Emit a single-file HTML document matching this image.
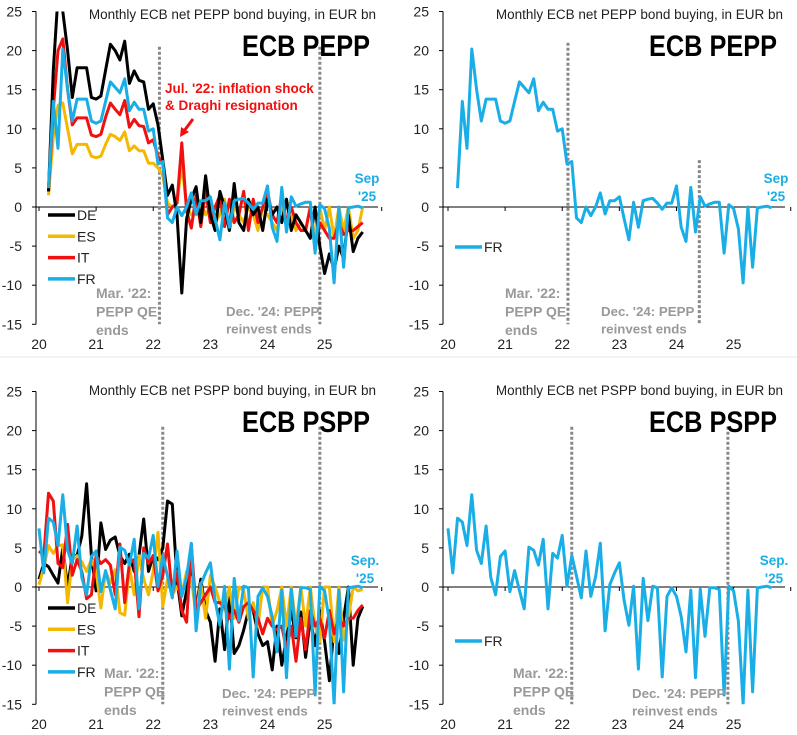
<!DOCTYPE html>
<html><head><meta charset="utf-8"><style>
html,body{margin:0;padding:0;background:#fff;}
svg{display:block;font-family:"Liberation Sans",sans-serif;}
</style></head><body>
<svg id="c" width="797" height="735" viewBox="0 0 797 735"></svg>
<script>
// Data: monthly values, month index 0 = Jan 2020
const yTicks = [25,20,15,10,5,0,-5,-10,-15];
const xTickLabels = ['20','21','22','23','24','25'];
const peppStart = 2;
const peppDE = [2,17.5,27,25,20,14,17.8,17.8,17.8,14,13.8,14.2,17.5,20.8,20,18.8,21.2,15.8,17.4,16.2,16,12.5,13.2,10.5,6,1.5,2.8,-1,-11,-1.5,1,
 2.6,-2,4,-1,-3,2,0,-3,3,-2,-3,1,-1,0,-3,1,-1,0,-2,1,-3,-1,-2,-3,-4,0,-5,-8.5,-6,-8,-5,-6.6,-1,-5.7,-4,-3.2];
const peppES = [1.5,9,13,13.3,10,6.8,8,8,8,6.5,6.3,6.5,8,9.3,9,8.5,9.6,7.2,7.8,7.2,7.2,5.6,5.6,5,4,0.5,0,0.5,5.5,0,-1,
 -1,0.5,-1,0,-2,-1,1,-3,0,-1,-2,0,-1,-3,0,-1,-2,-3,0,-2,-1,-3,-2,-3,0,-4,0,-3,0,-4,0,-3,0,-4,-3,0];
const peppIT = [2,12.5,20,21.5,15,10.5,11.4,11.4,11.4,9.2,9,9.3,11.5,13.3,12.5,11.8,13.6,10.2,11.2,10.4,10.3,8.2,8.6,6.5,5.5,-1,0,0.5,8.2,-0.5,-2.7,
 1.5,-2.5,2,-2,0,1.5,-2.5,1,-2,-1,2,-3,1,-2,0,2,-1,-2,1.5,-2,0,-2,-3,-3,0,-5.5,-2,-3,-4,-4,-2,-3.5,-3,-3,-2.5,-2];
const peppFR = [2.4,13.5,7.5,20.2,15,11,13.8,13.8,13.8,11,10.7,11,13.5,16,15.3,14.6,16.4,12.3,13.4,12.5,12.5,9.7,10,5.5,5.8,-1.4,-2,0,-1.1,0,1.8,-0.9,0.8,0.8,1.3,-1.5,-4.2,0.6,-2.6,0.8,1,1.1,0.5,-0.3,0.5,0.5,2.7,-2.6,-4.4,2.5,-3.2,1.3,0.1,0.4,0.6,0.6,-5.9,0.3,-0.2,-2.8,-9.7,0,-7.7,-0.1,0,0.1,-0.1];
const psppStart = 0;
const psppDE = [1,3,2.6,1.5,0.5,5,0,4,4,6.5,13.2,4,-0.5,8.2,4.8,6,6.4,4,3,4.2,2,4,8.7,2,4,3.5,5,11,10.6,1,-3.7,-0.5,3,-2.8,1,-3,-4.5,-9.5,-2.8,-8,-1,-8.5,-7.5,-5.5,-3,-3,-6,-7.5,-7,-10.6,-5,-10,-6.5,-3,-6.5,-3.2,-9,-4,-7.5,-3,-7,-12,-5,-8.5,-4,0,-10,-4,-2.5];
const psppES = [0.3,2.5,5.3,4.3,5.3,5.4,-2,3.5,4,3.2,2,3.5,2,-2.7,2,0.5,2.2,-3.3,-3.6,2.5,-1,4,1,-1,2,7,-2.5,1,-1,0,-1,2,1,-3.5,0.5,-4,1.5,0,-2,-3,0,-4,0,-0.5,-4,-2,-5,0,0,-5,-3,0,-5,0,-5,0,-5,0,-5,-7,0,0,-7,0,-6.8,-4,0,-0.5,-0.3];
const psppIT = [4.6,4,12,11,3,2.5,8,1.5,3.5,2,-1.5,-1,4,3,3.5,2.8,-1,5.5,-2,3,3.5,-3.8,5,3,4,-0.5,1.5,5.5,-1,2,-3,-4.5,5.5,-3,-2,-1,0,-2,-2,-2.5,-4,-3,-4.5,-2.5,-2,-3,-4,-6,-4,-5,-5.5,-5,-8,-5,-9.5,-4,-8,-3,-5,-4,-6.5,-3,-6,-4,-5,-4,-4,-3,-2.3];
const psppFR = [7.5,1.8,8.8,8.3,5.3,11.8,4.7,3,7.8,1.2,-1,3.9,4.6,-0.6,2.1,-0.4,-2.8,5.1,4.7,2.8,6.1,-2.8,4.3,3.7,6.6,0.1,4,1.4,-1.4,4.6,-1.2,1.3,5.6,-5.6,0.3,1.8,3.1,-1.7,-4.9,0.1,-10.5,1.1,-4.3,0.1,-0.1,-11.5,-1.2,-0.1,-1.2,-3.8,-8.3,-0.4,-11.6,-0.3,-6.3,-0.1,-0.1,-0.3,-13.8,0.1,-0.5,-4.4,-15,-0.4,-13.4,-0.1,0,0.1,-0.1];

const NS='http://www.w3.org/2000/svg';
const svg=document.getElementById('c');
const COL={DE:'#000000',ES:'#F5B800',IT:'#F01010',FR:'#19AEE6'};
function mk(tag,attrs,parent){const e=document.createElementNS(NS,tag);for(const k in attrs)e.setAttribute(k,attrs[k]);(parent||svg).appendChild(e);return e;}
function txt(s,x,y,attrs,parent){const t=mk('text',Object.assign({x:x,y:y},attrs),parent);t.textContent=s;return t;}

function panel(o){
  const g=mk('g',{});
  
  
  const X=m=>o.x0+m*4.76;
  const Y=v=>o.y0-v*7.82;
  const axX=o.axX;
  const ya=mk('line',{x1:axX,y1:Y(25),x2:axX,y2:Y(-15),stroke:'#000','stroke-width':1},g);
  
  
  yTicks.forEach(v=>{
    mk('line',{x1:axX-4,y1:Y(v),x2:axX,y2:Y(v),stroke:'#000'},g);
    const t=txt(String(v),axX-14,Y(v)+5,{'text-anchor':'end','font-size':14,fill:'#222'},g);
    
    
  });
  const xa=mk('line',{x1:axX,y1:Y(0),x2:axX+342,y2:Y(0),stroke:'#000','stroke-width':1},g);
  
  
  xTickLabels.forEach((s,i)=>{
    mk('line',{x1:X(i*12),y1:Y(0),x2:X(i*12),y2:Y(0)+4,stroke:'#000'},g);
    const t=txt(s,X(i*12),o.labY,{'text-anchor':'middle','font-size':14,fill:'#222'},g);
    
    
  });
  mk('line',{x1:X(72),y1:Y(0),x2:X(72),y2:Y(0)+4,stroke:'#000'},g);
  o.vlines.forEach((m,i)=>{
    const l=mk('line',{x1:X(m),y1:Y(o.vTop[i]),x2:X(m),y2:Y(-15),stroke:'#888','stroke-width':3,'stroke-dasharray':'3,2'},g);
    
    
  });
  const cid='clip'+o.name;
  const cp=mk('clipPath',{id:cid},g);
  mk('rect',{x:axX,y:Y(25),width:360,height:Y(-15)-Y(25)},cp);
  o.series.forEach(s=>{
    const pts=s.data.map((v,i)=>X(o.start+i).toFixed(1)+','+Y(v).toFixed(1)).join(' ');
    const p=mk('polyline',{points:pts,fill:'none',stroke:COL[s.k],'stroke-width':3,'stroke-linejoin':'round','clip-path':'url(#'+cid+')'},g);
    
    
  });
  const t1=txt(o.title,axX+340,o.y0-188+o.tOff,{'text-anchor':'end','font-size':13.5,fill:'#222'},g);
  
  
  const t2=txt(o.big,axX+206,o.y0-151+o.tOff,{'font-size':30,'font-weight':'bold',fill:'#000',textLength:128,lengthAdjust:'spacingAndGlyphs'},g);
  
  
  o.legend.forEach((k,i)=>{
    const ly=o.legY+i*21.3;
    const l=mk('line',{x1:axX+12,y1:ly,x2:axX+39,y2:ly,stroke:COL[k],'stroke-width':3.5},g);
    
    
    const t=txt(k,axX+41,ly+5,{'font-size':14,fill:'#222'},g);
    
    
  });
  const g1=mk('g',{'font-size':14,'font-weight':'bold',fill:'#999'},g);
  
  
  o.mar.lines.forEach((s,i)=>txt(s,o.mar.x,o.mar.y+i*18.5,{},g1));
  const g2=mk('g',{'font-size':13.3,'font-weight':'bold',fill:'#999'},g);
  
  
  o.dec.lines.forEach((s,i)=>txt(s,o.dec.x,o.dec.y+i*17.5,{},g2));
  const g3=mk('g',{'font-size':13.5,'font-weight':'bold',fill:'#19AEE6','text-anchor':'middle'},g);
  
  
  o.sep.lines.forEach((s,i)=>txt(s,o.sep.x,o.sep.y+i*18,{},g3));
  return g;
}

const sep1=mk('line',{x1:0,y1:357,x2:797,y2:357,stroke:'#e4e4e4'});



panel({name:'pepp-all',x0:39,y0:207,axX:36,labY:349,start:peppStart,vlines:[25.3,59],vTop:[20.5,20.5],
  series:[{k:'ES',data:peppES},{k:'IT',data:peppIT},{k:'DE',data:peppDE},{k:'FR',data:peppFR}],
  title:'Monthly ECB net PEPP bond buying, in EUR bn',big:'ECB PEPP',tOff:0,legend:['DE','ES','IT','FR'],legY:215,
  mar:{x:96,y:298,lines:["Mar. '22:","PEPP QE","ends"]},dec:{x:226,y:316,lines:["Dec. '24: PEPP","reinvest ends"]},
  sep:{x:367,y:183,lines:['Sep',"'25"]}});
panel({name:'pepp-fr',x0:448,y0:207,axX:443,labY:349,start:peppStart,vlines:[25.2,52.8],vTop:[21,6],
  series:[{k:'FR',data:peppFR}],
  title:'Monthly ECB net PEPP bond buying, in EUR bn',big:'ECB PEPP',tOff:0,legend:['FR'],legY:247,
  mar:{x:505,y:298,lines:["Mar. '22:","PEPP QE","ends"]},dec:{x:601,y:316,lines:["Dec. '24: PEPP","reinvest ends"]},
  sep:{x:776,y:183,lines:['Sep',"'25"]}});
panel({name:'pspp-all',x0:39,y0:587,axX:36,labY:729,start:psppStart,vlines:[26,59],vTop:[20.5,20.5],
  series:[{k:'DE',data:psppDE},{k:'ES',data:psppES},{k:'IT',data:psppIT},{k:'FR',data:psppFR}],
  title:'Monthly ECB net PSPP bond buying, in EUR bn',big:'ECB PSPP',tOff:-4,legend:['DE','ES','IT','FR'],legY:608,
  mar:{x:104,y:678,lines:["Mar. '22:","PEPP QE","ends"]},dec:{x:222,y:698,lines:["Dec. '24: PEPP","reinvest ends"]},
  sep:{x:365,y:565,lines:['Sep.',"'25"]}});
panel({name:'pspp-fr',x0:448,y0:587,axX:443,labY:729,start:psppStart,vlines:[26,58.8],vTop:[20.5,20.5],
  series:[{k:'FR',data:psppFR}],
  title:'Monthly ECB net PSPP bond buying, in EUR bn',big:'ECB PSPP',tOff:-4,legend:['FR'],legY:641,
  mar:{x:513,y:678,lines:["Mar. '22:","PEPP QE","ends"]},dec:{x:632,y:698,lines:["Dec. '24: PEPP","reinvest ends"]},
  sep:{x:774,y:565,lines:['Sep.',"'25"]}});

const ra=mk('g',{'font-size':13.5,'font-weight':'bold',fill:'#F01010'});


txt("Jul. '22: inflation shock",165,93,{},ra);
txt("& Draghi resignation",165,110,{},ra);
mk('line',{x1:193,y1:119,x2:184,y2:131,stroke:'#F01010','stroke-width':3},ra);
mk('polygon',{points:'180,137 181,127 189,132',fill:'#F01010'},ra);
</script>
</body></html>
